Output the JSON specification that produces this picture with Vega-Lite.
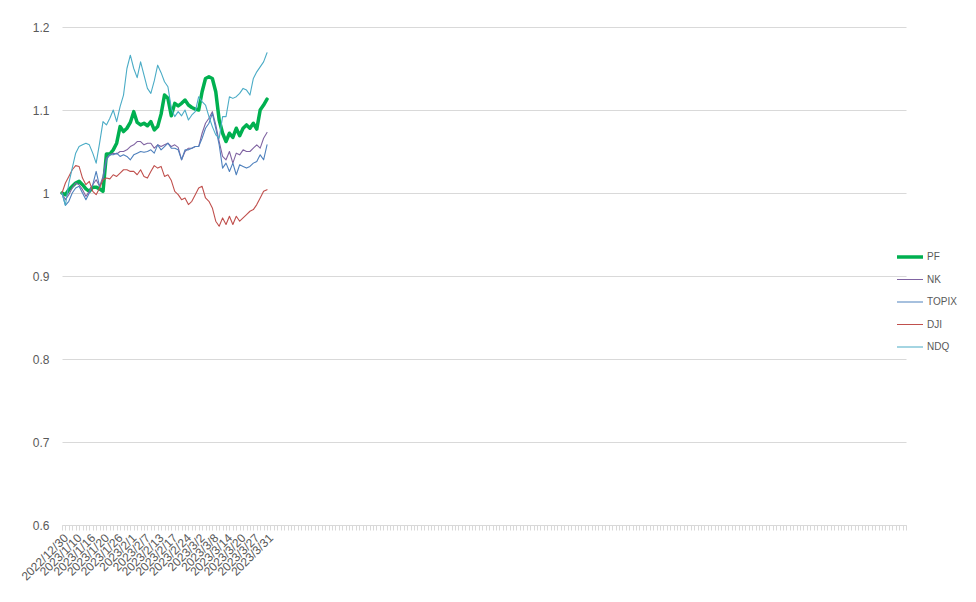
{
  "$schema": "https://vega.github.io/schema/vega-lite/v6.json",
  "width": 844,
  "height": 498,
  "autosize": {"type": "none"},
  "padding": {"left": 62, "top": 27, "right": 70, "bottom": 77},
  "background": "white",
  "config": {"view": {"stroke": null}, "font": "Liberation Sans"},
  "data": {"values": [
    {"i":0,"date":"2022/12/30","PF":1.000,"NK":1.000,"TOPIX":1.000,"DJI":1.000,"NDQ":1.000},
    {"i":1,"date":"2023/1/4","PF":0.998,"NK":0.992,"TOPIX":0.985,"DJI":1.012,"NDQ":0.985},
    {"i":2,"date":"2023/1/5","PF":1.004,"NK":0.998,"TOPIX":0.990,"DJI":1.020,"NDQ":1.012},
    {"i":3,"date":"2023/1/6","PF":1.008,"NK":1.006,"TOPIX":1.000,"DJI":1.028,"NDQ":1.030},
    {"i":4,"date":"2023/1/10","PF":1.012,"NK":1.012,"TOPIX":1.006,"DJI":1.033,"NDQ":1.048},
    {"i":5,"date":"2023/1/11","PF":1.014,"NK":1.010,"TOPIX":1.008,"DJI":1.032,"NDQ":1.056},
    {"i":6,"date":"2023/1/12","PF":1.010,"NK":1.004,"TOPIX":1.000,"DJI":1.018,"NDQ":1.058},
    {"i":7,"date":"2023/1/13","PF":1.005,"NK":0.996,"TOPIX":0.992,"DJI":1.010,"NDQ":1.060},
    {"i":8,"date":"2023/1/16","PF":1.002,"NK":1.002,"TOPIX":1.000,"DJI":1.014,"NDQ":1.058},
    {"i":9,"date":"2023/1/17","PF":1.007,"NK":1.010,"TOPIX":1.010,"DJI":1.002,"NDQ":1.048},
    {"i":10,"date":"2023/1/18","PF":1.007,"NK":1.016,"TOPIX":1.026,"DJI":0.998,"NDQ":1.036},
    {"i":11,"date":"2023/1/19","PF":1.005,"NK":1.008,"TOPIX":1.008,"DJI":1.006,"NDQ":1.060},
    {"i":12,"date":"2023/1/20","PF":1.002,"NK":1.020,"TOPIX":1.016,"DJI":1.016,"NDQ":1.086},
    {"i":13,"date":"2023/1/23","PF":1.047,"NK":1.042,"TOPIX":1.040,"DJI":1.018,"NDQ":1.082},
    {"i":14,"date":"2023/1/24","PF":1.047,"NK":1.046,"TOPIX":1.046,"DJI":1.017,"NDQ":1.090},
    {"i":15,"date":"2023/1/25","PF":1.052,"NK":1.048,"TOPIX":1.046,"DJI":1.022,"NDQ":1.100},
    {"i":16,"date":"2023/1/26","PF":1.060,"NK":1.047,"TOPIX":1.048,"DJI":1.020,"NDQ":1.086},
    {"i":17,"date":"2023/1/27","PF":1.080,"NK":1.050,"TOPIX":1.044,"DJI":1.024,"NDQ":1.104},
    {"i":18,"date":"2023/1/30","PF":1.074,"NK":1.050,"TOPIX":1.046,"DJI":1.028,"NDQ":1.118},
    {"i":19,"date":"2023/1/31","PF":1.078,"NK":1.052,"TOPIX":1.044,"DJI":1.028,"NDQ":1.150},
    {"i":20,"date":"2023/2/1","PF":1.085,"NK":1.056,"TOPIX":1.040,"DJI":1.026,"NDQ":1.166},
    {"i":21,"date":"2023/2/2","PF":1.098,"NK":1.058,"TOPIX":1.046,"DJI":1.026,"NDQ":1.150},
    {"i":22,"date":"2023/2/3","PF":1.085,"NK":1.062,"TOPIX":1.048,"DJI":1.022,"NDQ":1.139},
    {"i":23,"date":"2023/2/6","PF":1.082,"NK":1.062,"TOPIX":1.050,"DJI":1.028,"NDQ":1.158},
    {"i":24,"date":"2023/2/7","PF":1.084,"NK":1.058,"TOPIX":1.049,"DJI":1.020,"NDQ":1.142},
    {"i":25,"date":"2023/2/8","PF":1.081,"NK":1.060,"TOPIX":1.050,"DJI":1.018,"NDQ":1.126},
    {"i":26,"date":"2023/2/9","PF":1.086,"NK":1.060,"TOPIX":1.052,"DJI":1.026,"NDQ":1.120},
    {"i":27,"date":"2023/2/10","PF":1.076,"NK":1.054,"TOPIX":1.048,"DJI":1.033,"NDQ":1.135},
    {"i":28,"date":"2023/2/13","PF":1.080,"NK":1.058,"TOPIX":1.058,"DJI":1.030,"NDQ":1.154},
    {"i":29,"date":"2023/2/14","PF":1.095,"NK":1.056,"TOPIX":1.052,"DJI":1.032,"NDQ":1.145},
    {"i":30,"date":"2023/2/15","PF":1.118,"NK":1.058,"TOPIX":1.056,"DJI":1.020,"NDQ":1.134},
    {"i":31,"date":"2023/2/16","PF":1.114,"NK":1.060,"TOPIX":1.060,"DJI":1.022,"NDQ":1.128},
    {"i":32,"date":"2023/2/17","PF":1.093,"NK":1.056,"TOPIX":1.054,"DJI":1.015,"NDQ":1.102},
    {"i":33,"date":"2023/2/20","PF":1.108,"NK":1.058,"TOPIX":1.054,"DJI":1.002,"NDQ":1.092},
    {"i":34,"date":"2023/2/21","PF":1.105,"NK":1.055,"TOPIX":1.052,"DJI":0.998,"NDQ":1.098},
    {"i":35,"date":"2023/2/22","PF":1.108,"NK":1.040,"TOPIX":1.040,"DJI":0.992,"NDQ":1.093},
    {"i":36,"date":"2023/2/24","PF":1.112,"NK":1.050,"TOPIX":1.052,"DJI":0.994,"NDQ":1.100},
    {"i":37,"date":"2023/2/27","PF":1.106,"NK":1.054,"TOPIX":1.052,"DJI":0.986,"NDQ":1.088},
    {"i":38,"date":"2023/2/28","PF":1.103,"NK":1.054,"TOPIX":1.054,"DJI":0.990,"NDQ":1.094},
    {"i":39,"date":"2023/3/1","PF":1.101,"NK":1.056,"TOPIX":1.056,"DJI":0.998,"NDQ":1.098},
    {"i":40,"date":"2023/3/2","PF":1.100,"NK":1.056,"TOPIX":1.056,"DJI":1.006,"NDQ":1.116},
    {"i":41,"date":"2023/3/3","PF":1.122,"NK":1.072,"TOPIX":1.066,"DJI":1.008,"NDQ":1.110},
    {"i":42,"date":"2023/3/6","PF":1.138,"NK":1.084,"TOPIX":1.078,"DJI":0.994,"NDQ":1.106},
    {"i":43,"date":"2023/3/7","PF":1.140,"NK":1.090,"TOPIX":1.084,"DJI":0.990,"NDQ":1.092},
    {"i":44,"date":"2023/3/8","PF":1.138,"NK":1.098,"TOPIX":1.096,"DJI":0.982,"NDQ":1.080},
    {"i":45,"date":"2023/3/9","PF":1.122,"NK":1.082,"TOPIX":1.078,"DJI":0.966,"NDQ":1.070},
    {"i":46,"date":"2023/3/10","PF":1.088,"NK":1.062,"TOPIX":1.058,"DJI":0.960,"NDQ":1.066},
    {"i":47,"date":"2023/3/13","PF":1.072,"NK":1.044,"TOPIX":1.030,"DJI":0.970,"NDQ":1.092},
    {"i":48,"date":"2023/3/14","PF":1.062,"NK":1.040,"TOPIX":1.036,"DJI":0.962,"NDQ":1.092},
    {"i":49,"date":"2023/3/15","PF":1.072,"NK":1.050,"TOPIX":1.026,"DJI":0.972,"NDQ":1.116},
    {"i":50,"date":"2023/3/16","PF":1.067,"NK":1.036,"TOPIX":1.036,"DJI":0.962,"NDQ":1.114},
    {"i":51,"date":"2023/3/17","PF":1.078,"NK":1.048,"TOPIX":1.022,"DJI":0.972,"NDQ":1.116},
    {"i":52,"date":"2023/3/20","PF":1.069,"NK":1.046,"TOPIX":1.034,"DJI":0.966,"NDQ":1.120},
    {"i":53,"date":"2023/3/22","PF":1.078,"NK":1.052,"TOPIX":1.032,"DJI":0.970,"NDQ":1.126},
    {"i":54,"date":"2023/3/23","PF":1.082,"NK":1.050,"TOPIX":1.030,"DJI":0.974,"NDQ":1.124},
    {"i":55,"date":"2023/3/24","PF":1.078,"NK":1.050,"TOPIX":1.032,"DJI":0.978,"NDQ":1.118},
    {"i":56,"date":"2023/3/27","PF":1.084,"NK":1.054,"TOPIX":1.036,"DJI":0.980,"NDQ":1.138},
    {"i":57,"date":"2023/3/28","PF":1.077,"NK":1.058,"TOPIX":1.038,"DJI":0.986,"NDQ":1.146},
    {"i":58,"date":"2023/3/29","PF":1.100,"NK":1.054,"TOPIX":1.046,"DJI":0.994,"NDQ":1.152},
    {"i":59,"date":"2023/3/30","PF":1.106,"NK":1.066,"TOPIX":1.040,"DJI":1.002,"NDQ":1.158},
    {"i":60,"date":"2023/3/31","PF":1.113,"NK":1.073,"TOPIX":1.058,"DJI":1.004,"NDQ":1.169}
  ]},
  "transform": [{"fold": ["PF", "NK", "TOPIX", "DJI", "NDQ"], "as": ["series", "value"]}],
  "mark": {"type": "line", "strokeJoin": "round", "strokeCap": "round"},
  "encoding": {
    "x": {
      "field": "i", "type": "quantitative",
      "scale": {"domain": [0, 247], "nice": false, "zero": false},
      "axis": {
        "title": null, "grid": false, "tickCount": 248,
        "labelOverlap": false, "labelFlush": false,
        "labelExpr": "datum.value % 4 == 0 && datum.value <= 60 ? ['2022/12/30','2023/1/10','2023/1/16','2023/1/20','2023/1/26','2023/2/1','2023/2/7','2023/2/13','2023/2/17','2023/2/24','2023/3/2','2023/3/8','2023/3/14','2023/3/20','2023/3/27','2023/3/31'][datum.value/4] : ''",
        "labelAngle": -45, "labelFontSize": 12, "labelColor": "#595959", "labelPadding": 2,
        "domainColor": "#d9d9d9", "tickColor": "#d9d9d9", "tickSize": 5
      }
    },
    "y": {
      "field": "value", "type": "quantitative",
      "scale": {"domain": [0.6, 1.2], "nice": false, "zero": false},
      "axis": {
        "title": null, "values": [0.6, 0.7, 0.8, 0.9, 1, 1.1, 1.2], "format": "~g",
        "domain": false, "ticks": false, "labelPadding": 13,
        "labelFontSize": 12, "labelColor": "#595959",
        "gridColor": "#d9d9d9", "gridWidth": 1
      }
    },
    "color": {
      "field": "series", "type": "nominal",
      "scale": {"domain": ["PF", "NK", "TOPIX", "DJI", "NDQ"], "range": ["#00B050", "#8064A2", "#4F81BD", "#C0504D", "#4BACC6"]},
      "legend": {
        "title": null, "orient": "none", "legendX": 833, "legendY": 222,
        "symbolType": "stroke", "symbolSize": 676, "clipHeight": 16, "rowPadding": 6.5,
        "labelOffset": 2, "labelFontSize": 10, "labelColor": "#595959", "padding": 0
      }
    },
    "strokeWidth": {
      "field": "series", "type": "nominal",
      "scale": {"type": "ordinal", "domain": ["PF", "NK", "TOPIX", "DJI", "NDQ"], "range": [3.5, 1.1, 1.1, 1.1, 1.1]},
      "legend": {
        "title": null, "orient": "none", "legendX": 833, "legendY": 222,
        "symbolType": "stroke", "symbolSize": 676, "clipHeight": 16, "rowPadding": 6.5,
        "labelOffset": 2, "labelFontSize": 10, "labelColor": "#595959", "padding": 0
      }
    }
  }
}
